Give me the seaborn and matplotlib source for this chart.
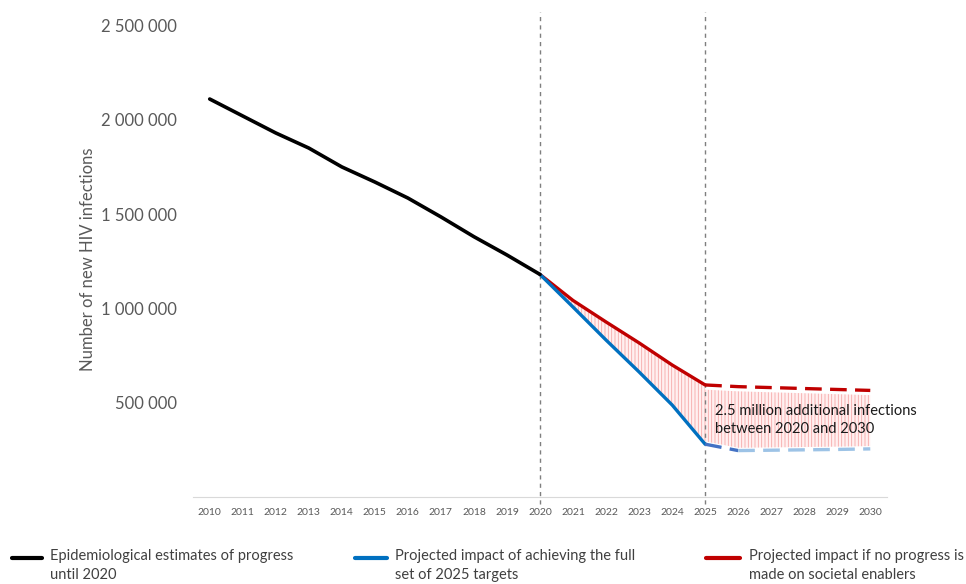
import matplotlib
matplotlib.use("Agg")
import matplotlib.pyplot as plt
import seaborn as sns
from matplotlib.lines import Line2D

# data
hist_years = list(range(2010, 2021))
hist_values = [2110000, 2020000, 1930000, 1850000, 1750000, 1670000,
               1585000, 1485000, 1380000, 1283000, 1180000]

proj_years = list(range(2020, 2026))
no_progress = [1180000, 1042000, 928000, 817000, 700000, 594000]
targets_met = [1180000, 1007000, 832000, 663000, 488000, 280000]

future_years = list(range(2025, 2031))
no_progress_future = [594000, 585000, 580000, 575000, 570000, 565000]
targets_future = [280000, 246000, 248000, 250000, 252000, 255000]

y_ticks = [500000, 1000000, 1500000, 2000000, 2500000]
legend_labels = ["Epidemiological estimates of progress\nuntil 2020",
                 "Projected impact of achieving the full\nset of 2025 targets",
                 "Projected impact if no progress is\nmade on societal enablers"]
note = "2.5 million additional infections\nbetween 2020 and 2030"

BLACK = "#000000"
BLUE = "#0070c0"
BLUE_DARK = "#4472c4"
BLUE_LIGHT = "#9dc3e6"
RED = "#c00000"
GREY_TXT = "#595959"

sns.set_style("white")
plt.rcParams['font.family'] = ['Lato', 'DejaVu Sans']
plt.rcParams['hatch.linewidth'] = 0.6

W, H = 966, 584
fig = plt.figure(figsize=(W / 100, H / 100), dpi=100)
ax = fig.add_axes([0.2, 0.149, 0.718, 0.830])

# shaded gap between the two scenarios
ax.fill_between(proj_years, targets_met, no_progress, facecolor="#fff0f0",
                edgecolor="#f7a8a8", hatch="|||||", linewidth=0, zorder=1)
ax.fill_between(future_years, [v + 15000 for v in targets_future],
                [v - 25000 for v in no_progress_future], facecolor="#fff0f0",
                edgecolor="#f7a8a8", hatch="|||||", linewidth=0, zorder=1)

DASH = [5, 2.5]
sns.lineplot(x=proj_years, y=no_progress, color=RED, linewidth=2.4, ax=ax, zorder=3)
sns.lineplot(x=proj_years, y=targets_met, color=BLUE, linewidth=2.4, ax=ax, zorder=3)
sns.lineplot(x=future_years, y=no_progress_future, color=RED, linewidth=2.4,
             ax=ax, zorder=3).lines[-1].set_dashes(DASH)
sns.lineplot(x=future_years[:2], y=targets_future[:2], color=BLUE_DARK, linewidth=2.4,
             ax=ax, zorder=3).lines[-1].set_dashes(DASH)
sns.lineplot(x=future_years[1:], y=targets_future[1:], color=BLUE_LIGHT, linewidth=2.4,
             ax=ax, zorder=3).lines[-1].set_dashes(DASH)
sns.lineplot(x=hist_years, y=hist_values, color=BLACK, linewidth=2.6, ax=ax, zorder=4)

for yr in (2020, 2025):
    ax.axvline(yr, ymin=-0.015, ymax=1, color="#7f7f7f", linestyle=(0, (3, 3)),
               linewidth=1, clip_on=False, zorder=2)

ax.text(2025.3, 493000, note, fontsize=10.5, color="#1a1a1a", va="top",
        linespacing=1.35, zorder=5)

ax.set_xlim(2009.5, 2030.5)
ax.set_ylim(0, 2570000)
ax.set_xticks(range(2010, 2031))
ax.set_xticklabels([str(y) for y in range(2010, 2031)], fontsize=7.5, color=GREY_TXT)
ax.set_yticks(y_ticks)
ax.set_yticklabels([f"{v:,}".replace(",", " ") for v in y_ticks],
                   fontsize=12, color=GREY_TXT)
ax.tick_params(axis="y", length=0, pad=12)
ax.tick_params(axis="x", length=0, pad=8)
ax.set_ylabel("Number of new HIV infections", fontsize=12, color=GREY_TXT)
ax.yaxis.set_label_coords(-0.14, 0.49)

sns.despine(ax=ax, left=True)
ax.spines["bottom"].set_color("#d9d9d9")

# legend along the bottom: handle sits level with the first text line
colors = [BLACK, BLUE, RED]
handle_px = [(12, 42), (355, 387), (706, 740)]
text_px = [50, 395, 749]
y_line = 1 - 558 / H
for lab, col, (x0, x1), xt in zip(legend_labels, colors, handle_px, text_px):
    fig.add_artist(Line2D([x0 / W, x1 / W], [y_line, y_line], color=col,
                          linewidth=3, transform=fig.transFigure))
    fig.text(xt / W, 1 - 549 / H, lab, fontsize=10.5, color="#404040",
             va="top", ha="left", linespacing=1.45)

fig.savefig("out.png", dpi=100)
